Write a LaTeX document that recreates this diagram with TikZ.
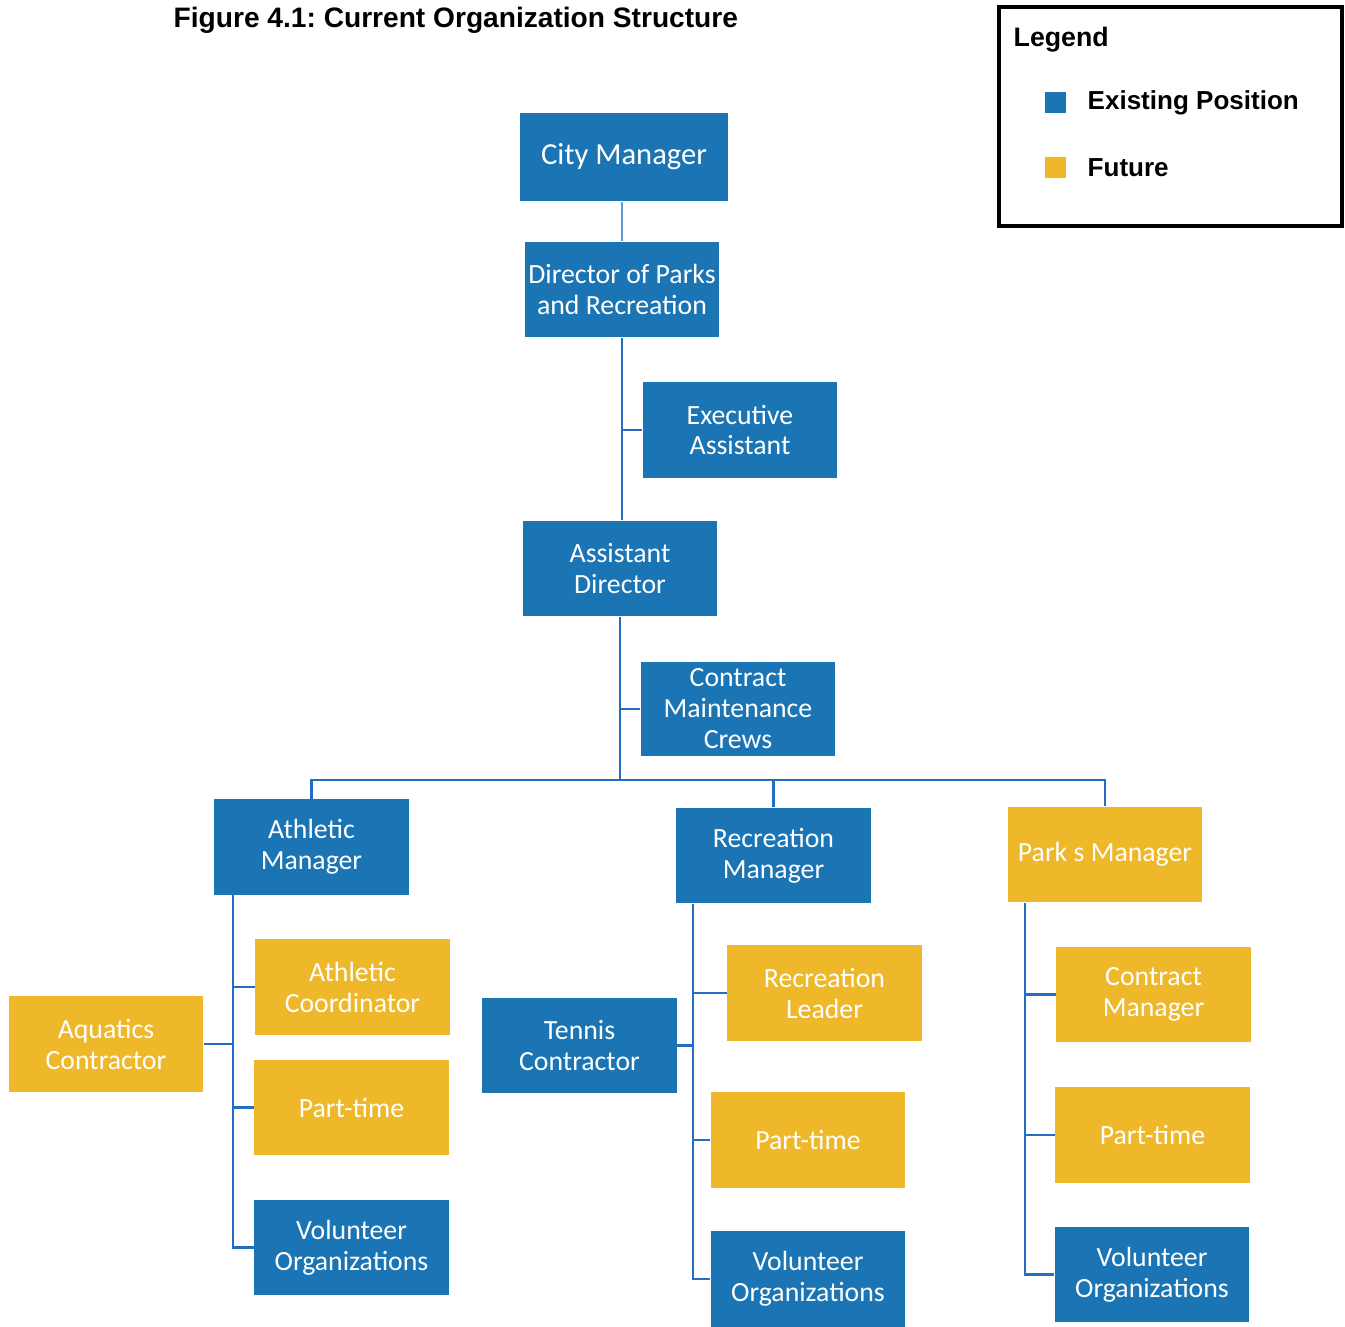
\documentclass[tikz,border=0pt]{standalone}
\usepackage{fontspec}
\setmainfont{Carlito}
\newfontfamily\arialfont{Liberation Sans}
\usepackage{tikz}
\frenchspacing

\definecolor{posblue}{RGB}{27,117,180}
\definecolor{futgold}{RGB}{238,184,42}
\definecolor{linkblue}{RGB}{35,110,195}

\tikzset{
	post/.style={inner sep=0pt,align=center,text=white,minimum width=1.94cm,minimum height=0.95cm,font=\fontsize{7.9}{8.8}\selectfont},
	existing/.style={post,fill=posblue},
	future/.style={post,fill=futgold},
	link/.style={draw=linkblue,line width=0.7pt},
	legtext/.style={anchor=west,inner sep=0pt,font=\arialfont\bfseries\fontsize{7.4}{8.8}\selectfont}
}

\begin{document}
\begin{tikzpicture}[x=0.01cm,y=-0.01cm]
	\useasboundingbox (0,0) rectangle (1345,1326);
	
	\node[anchor=west,inner sep=0pt,font=\arialfont\bfseries\fontsize{8}{9.6}\selectfont] (title) at (173,20) {Figure 4.1: Current Organization Structure};
	
	%top of the chart
	\node[existing,minimum width=2.08cm,minimum height=0.88cm,font=\fontsize{8.7}{9.6}\selectfont] (city) at (624,157) {City Manager};
	\node[existing] (dir) at (622,289.5) {Director of Parks\\and Recreation};
	\node[existing] (exec) at (740,430) {Executive\\Assistant};
	\node[existing] (asst) at (620,568.5) {Assistant\\Director};
	\node[existing,minimum height=0.94cm] (crew) at (738,709) {Contract\\Maintenance\\Crews};
	
	\draw[link,draw=linkblue!70] (dir.north |- city.south) -- (dir.north);
	\draw[link] (dir.south) -- (dir.south |- asst.north);
	\draw[link] (exec.west) -- (exec.west -| dir.south);
	
	%managers
	\node[existing] (ath) at (311.5,847) {Athletic\\Manager};
	\node[existing] (rec) at (773.5,855.5) {Recreation\\Manager};
	\node[future] (park) at (1105,854.5) {Park s Manager};
	
	\coordinate (bus) at (620,780);
	\draw[link] (asst.south) -- (bus);
	\draw[link] (crew.west) -- (crew.west -| asst.south);
	\draw[link] (ath.north) |- (bus) -| (park.north);
	\draw[link] (bus) -| (rec.north);
	
	%athletic
	\node[future] (acoord) at (352.5,987) {Athletic\\Coordinator};
	\node[future] (aqua) at (106,1044) {Aquatics\\Contractor};
	\node[future] (apart) at (351.5,1107.5) {Part-time};
	\node[existing] (avol) at (351.5,1247.5) {Volunteer\\Organizations};
	
	\coordinate (atrunk) at ([xshift=0.19cm]ath.south west);
	\draw[link] (atrunk) |- (avol.west);
	\draw[link] (acoord.west) -- (acoord.west -| atrunk);
	\draw[link] (apart.west) -- (apart.west -| atrunk);
	\draw[link] (aqua.east) -- (aqua.east -| atrunk);
	
	%recreation
	\node[future] (rlead) at (824.5,993) {Recreation\\Leader};
	\node[existing] (tennis) at (579.5,1045.5) {Tennis\\Contractor};
	\node[future] (rpart) at (808,1140) {Part-time};
	\node[existing] (rvol) at (808,1279) {Volunteer\\Organizations};
	
	\coordinate (rtrunk) at ([xshift=0.17cm]rec.south west);
	\draw[link] (rtrunk) |- (rvol.west);
	\draw[link] (rlead.west) -- (rlead.west -| rtrunk);
	\draw[link] (rpart.west) -- (rpart.west -| rtrunk);
	\draw[link] (tennis.east) -- (tennis.east -| rtrunk);
	
	%parks
	\node[future] (pcon) at (1153.5,994.5) {Contract\\Manager};
	\node[future] (ppart) at (1152.5,1135) {Part-time};
	\node[existing] (pvol) at (1152,1274.5) {Volunteer\\Organizations};
	
	\coordinate (ptrunk) at ([xshift=0.18cm]park.south west);
	\draw[link] (ptrunk) |- (pvol.west);
	\draw[link] (pcon.west) -- (pcon.west -| ptrunk);
	\draw[link] (ppart.west) -- (ppart.west -| ptrunk);
	
	%legend
	\draw[line width=0.9pt] (999,7) rectangle (1342,226);
	\node[legtext,font=\arialfont\bfseries\fontsize{7.6}{9}\selectfont] (leg) at (1013,40) {Legend};
	\fill[posblue] (1045,92) rectangle (1066,113);
	\node[legtext] (legpos) at (1087,102.5) {Existing Position};
	\fill[futgold] (1045,157) rectangle (1066,178);
	\node[legtext] (legfut) at (1087,167.5) {Future};
\end{tikzpicture}
\end{document}
